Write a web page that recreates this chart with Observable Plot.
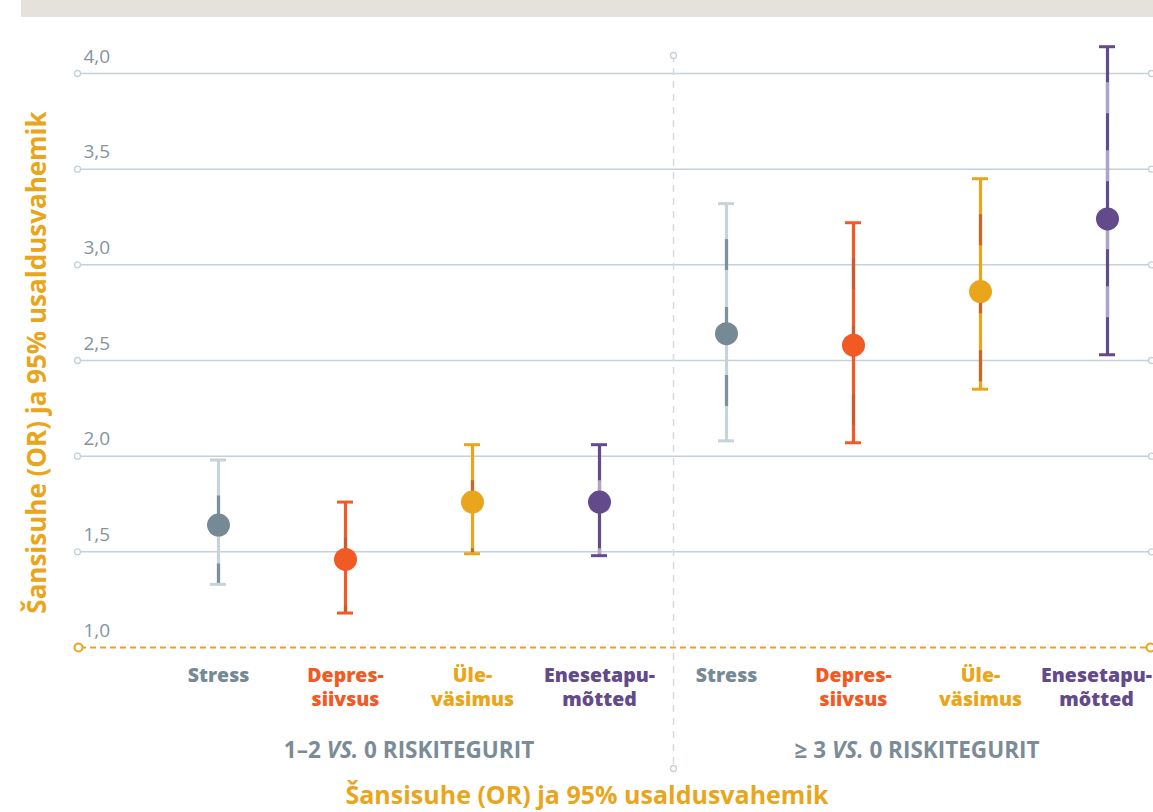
<!DOCTYPE html>
<html lang="et">
<head>
<meta charset="utf-8">
<script src="https://cdn.jsdelivr.net/npm/d3@7"></script>
<script src="https://cdn.jsdelivr.net/npm/@observablehq/plot@0.6"></script>
<style>
  html, body { margin: 0; padding: 0; background: #fff; overflow: hidden; }
  #wrap { position: relative; width: 1153px; height: 812px; overflow: hidden; }
  #band { position: absolute; left: 21px; top: 0; width: 1132px; height: 17px; background: #e4e2da; }
  #wrap svg { display: block; }
</style>
</head>
<body>
<div id="wrap"><div id="band"></div></div>
<script>
// Outcomes and the two risk-factor comparison groups
const categories = ["Stress", "Depres-\nsiivsus", "Üle-\nväsimus", "Enesetapu-\nmõtted"];
const groups = ["1–2 VS. 0 RISKITEGURIT", "≥ 3 VS. 0 RISKITEGURIT"];

// Odds ratios with 95% confidence limits, 1–2 vs 0 risk factors
const oddsRatio1 = [1.64, 1.46, 1.76, 1.76];
const lower1 = [1.33, 1.18, 1.49, 1.48];
const upper1 = [1.98, 1.76, 2.06, 2.06];

// Odds ratios with 95% confidence limits, ≥3 vs 0 risk factors
const oddsRatio2 = [2.64, 2.58, 2.86, 3.24];
const lower2 = [2.08, 2.07, 2.35, 2.53];
const upper2 = [3.32, 3.22, 3.45, 4.14];

const yTicks = [1, 1.5, 2, 2.5, 3, 3.5, 4];
const yTitle = "Šansisuhe (OR) ja 95% usaldusvahemik";
const xTitle = "Šansisuhe (OR) ja 95% usaldusvahemik";

// Palette per outcome
const pointColors = ["#768a96", "#f15a24", "#e9a61c", "#634a8a"];
const barColors = ["#c8d2d9", "#f15a24", "#e9a61c", "#634a8a"];
const dashColors = ["#7e909b", "#c95b2d", "#c9672a", "#aca4cb"];
const orange = "#e9a61c";
const slate = "#7b8c98";

const ors = [oddsRatio1, oddsRatio2];
const los = [lower1, lower2];
const his = [upper1, upper2];

const rows = groups.flatMap((g, gi) => categories.map((c, ci) => ({
  group: g, gi, ci, cat: c, key: `${gi}:${ci}`,
  or: ors[gi][ci], lo: los[gi][ci], hi: his[gi][ci]
})));
const keys = rows.map(d => d.key);

const width = 1153, height = 812;
const marginLeft = 218, marginRight = 46, marginTop = 73, marginBottom = 165;
const step = (width - marginLeft - marginRight) / (keys.length - 1);
const font = "'Open Sans', 'Noto Sans', sans-serif";

const labelStyle = {frameAnchor: "bottom", lineAnchor: "top", dy: 18, lineHeight: 1.2, fontSize: 19.5, fontWeight: 800};

const chart = Plot.plot({
  width, height, marginLeft, marginRight, marginTop, marginBottom,
  x: {type: "point", domain: keys, padding: 0, axis: null},
  y: {domain: [1, 4], label: null, axis: null},
  color: {type: "identity"},
  style: {fontFamily: font, background: "transparent", overflow: "hidden"},
  marks: [
    // horizontal grid
    Plot.ruleY(yTicks.filter(t => t > 1), {stroke: "#c6d0d7", strokeWidth: 1.5, insetLeft: -138, insetRight: -43}),
    Plot.dot(yTicks.filter(t => t > 1), {y: d => d, frameAnchor: "left", dx: -141, r: 3, stroke: "#c6d0d7", fill: "white", strokeWidth: 1.3}),
    Plot.dot(yTicks.filter(t => t > 1), {y: d => d, frameAnchor: "right", dx: 44, r: 3, stroke: "#c6d0d7", fill: "white", strokeWidth: 1.3}),
    // reference line at OR = 1
    Plot.ruleY([1], {stroke: orange, strokeWidth: 2, strokeDasharray: "6,4", insetLeft: -138, insetRight: -43}),
    Plot.dot([1], {y: d => d, frameAnchor: "left", dx: -140, r: 4, stroke: orange, fill: "white", strokeWidth: 2}),
    Plot.dot([1], {y: d => d, frameAnchor: "right", dx: 43, r: 4, stroke: orange, fill: "white", strokeWidth: 2}),
    // separator between the two comparisons
    Plot.ruleX([keys[3]], {dx: 74, stroke: "#d3dbe0", strokeWidth: 1.5, strokeDasharray: "7,6", insetTop: -18, insetBottom: -121}),
    Plot.dot([keys[3]], {x: d => d, frameAnchor: "top", dx: 74, dy: -18, r: 3, stroke: "#c6d0d7", fill: "white", strokeWidth: 1.3}),
    Plot.dot([keys[3]], {x: d => d, frameAnchor: "bottom", dx: 74, dy: 121, r: 3, stroke: "#c6d0d7", fill: "white", strokeWidth: 1.3}),
    // y tick labels
    Plot.axisY(yTicks, {tickSize: 0, textAnchor: "start", dx: -126, dy: -17, tickFormat: d => d.toFixed(1).replace(".", ","), fill: "#8394a0", fontSize: 19, fontWeight: 400, label: null}),
    // confidence intervals: solid base plus two-tone dash overlay
    Plot.ruleX(rows, {x: "key", y1: "hi", y2: "lo", stroke: d => barColors[d.ci], strokeWidth: 3.2}),
    Plot.ruleX(rows, {x: "key", y1: "hi", y2: "lo", stroke: d => dashColors[d.ci], strokeWidth: 3.2, strokeDasharray: "31,37", strokeDashoffset: 32}),
    Plot.ruleY(rows, {x1: "key", x2: "key", y: "hi", stroke: d => barColors[d.ci], strokeWidth: 3, insetLeft: -8, insetRight: -8}),
    Plot.ruleY(rows, {x1: "key", x2: "key", y: "lo", stroke: d => barColors[d.ci], strokeWidth: 3, insetLeft: -8, insetRight: -8}),
    // odds ratio points
    Plot.dot(rows, {x: "key", y: "or", r: 11.5, fill: d => pointColors[d.ci]}),
    // category labels (the last one is nudged in from the right edge)
    Plot.text(rows.slice(0, -1), {x: "key", text: "cat", fill: d => pointColors[d.ci], ...labelStyle}),
    Plot.text(rows.slice(-1), {x: "key", text: "cat", fill: d => pointColors[d.ci], ...labelStyle, dx: -11}),
    // group labels
    Plot.text(groups, {x: (d, i) => keys[i * 4 + 1], text: d => d, dx: step / 2, frameAnchor: "bottom", lineAnchor: "middle", dy: 103, fill: slate, fontSize: 22.5, fontWeight: 700, className: "grp"}),
    // axis titles
    Plot.text([xTitle], {text: d => d, frameAnchor: "bottom", textAnchor: "middle", lineAnchor: "middle", dx: -76, dy: 148, fill: orange, fontSize: 25, fontWeight: 700}),
    Plot.text([yTitle], {text: d => d, frameAnchor: "left", textAnchor: "middle", lineAnchor: "middle", rotate: -90, dx: -181, dy: 2, fill: orange, fontSize: 26, fontWeight: 700})
  ]
});

// italicise "VS." inside the group labels
d3.select(chart).selectAll(".grp text").each(function () {
  const t = this.textContent;
  const parts = t.split("VS.");
  const sel = d3.select(this).text("");
  sel.append("tspan").text(parts[0]);
  sel.append("tspan").attr("font-style", "italic").text("VS.");
  sel.append("tspan").text(parts[1]);
});

document.getElementById("wrap").prepend(chart);
</script>
</body>
</html>
